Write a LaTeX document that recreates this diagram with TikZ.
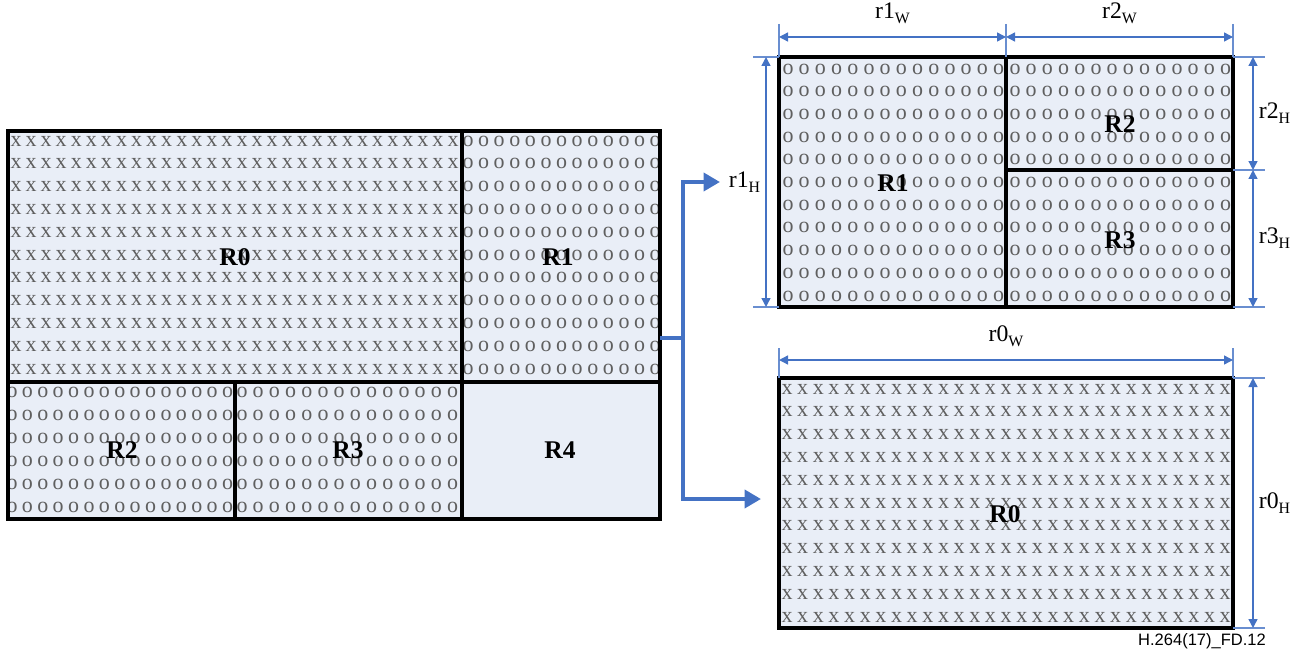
\documentclass[tikz,border=0pt]{standalone}
\usepackage{fontspec}
\setmainfont{Liberation Serif}
\newfontfamily\footfont{Liberation Sans}
\usetikzlibrary{arrows.meta,calc}
\definecolor{RegFill}{RGB}{233,238,247}
\definecolor{DimBlue}{RGB}{68,114,196}
\definecolor{GlyphGray}{RGB}{95,95,95}

% #1 prefix, #2 x0, #3 y0, #4 dx, #5 nx, #6 dy, #7 ny, #8 glyph
\newcommand{\glyphgrid}[8]{%
  \foreach \i in {1,...,#5}{\foreach \j in {1,...,#7}{%
    \node[glyph] (#1-\i-\j) at ({#2+(\i-1)*#4},{#3+(\j-1)*#6}) {#8};}}}
\newcommand{\dsub}[1]{\raisebox{-0.45ex}{\fontsize{9}{9}\selectfont #1}}

\begin{document}
\begin{tikzpicture}[x=0.02cm,y=-0.02cm,
glyph/.style={inner sep=0pt,text=GlyphGray,font=\fontsize{12.5}{12.5}\selectfont},
frame/.style={draw=black,line width=2.2pt},
reg/.style={inner sep=0pt,font=\fontsize{14.5}{14.5}\selectfont\bfseries},
dim/.style={draw=DimBlue,line width=0.8pt,{Triangle[length=1.8mm,width=1.8mm]}-{Triangle[length=1.8mm,width=1.8mm]}},
ext/.style={draw=DimBlue!80,line width=0.6pt},
dlbl/.style={inner sep=0pt,font=\fontsize{13.5}{13.5}\selectfont},
link/.style={draw=DimBlue,line width=2.3pt,-{Triangle[length=3.3mm,width=3.6mm]}}
]
\useasboundingbox (0,0) rectangle (1305,652);
% source picture
\fill[RegFill] (8,131) rectangle (660,519);
\glyphgrid{a}{16}{141}{15.07}{30}{22.8}{11}{x}
\glyphgrid{b}{468}{141}{15.6}{13}{22.8}{11}{o}
\glyphgrid{c}{12}{392}{15.4}{15}{23}{6}{o}
\glyphgrid{d}{242}{392}{16.2}{14}{23}{6}{o}
\draw[frame] (8,131) rectangle (660,519);
\draw[frame] (462,131) -- (462,519);
\draw[frame] (8,382) -- (660,382);
\draw[frame] (235,382) -- (235,519);
\node[reg] (lr0) at (235,257) {R0};
\node[reg] (lr1) at (558,257) {R1};
\node[reg] (lr2) at (122,450) {R2};
\node[reg] (lr3) at (348,450) {R3};
\node[reg] (lr4) at (560,450) {R4};
% o-regions, rearranged
\fill[RegFill] (779,57) rectangle (1233,307);
\glyphgrid{e}{788}{69}{16.2}{14}{22.7}{11}{o}
\glyphgrid{f}{1015}{69}{16.2}{14}{22.7}{11}{o}
\draw[frame] (779,57) rectangle (1233,307);
\draw[frame] (1006,57) -- (1006,307);
\draw[frame] (1006,170) -- (1233,170);
\node[reg] (rr1) at (893,183) {R1};
\node[reg] (rr2) at (1120,124) {R2};
\node[reg] (rr3) at (1120,240) {R3};
% x-region, rearranged
\fill[RegFill] (779,378) rectangle (1233,628);
\glyphgrid{g}{787}{389}{15.65}{29}{22.8}{11}{x}
\draw[frame] (779,378) rectangle (1233,628);
\node[reg] (rr0) at (1005,514) {R0};
% dimensions
\coordinate (w1) at (779,37); \coordinate (w2) at (1006,37); \coordinate (w3) at (1233,37);
\draw[ext] (779,24) -- (779,57); \draw[ext] (1006,24) -- (1006,57); \draw[ext] (1233,24) -- (1233,57);
\draw[dim] (w1) -- (w2) node[midway,above=7pt,dlbl] (l1w) {r1\dsub{W}};
\draw[dim] (w2) -- (w3) node[midway,above=7pt,dlbl] (l2w) {r2\dsub{W}};
\coordinate (h1) at (766,57); \coordinate (h2) at (766,307);
\draw[ext] (753,57) -- (779,57); \draw[ext] (753,307) -- (779,307);
\draw[dim] (h1) -- (h2) node[midway,left=3pt,dlbl] (l1h) {r1\dsub{H}};
\coordinate (v1) at (1253,57); \coordinate (v2) at (1253,170); \coordinate (v3) at (1253,307);
\draw[ext] (1233,57) -- (1265,57); \draw[ext] (1233,170) -- (1265,170); \draw[ext] (1233,307) -- (1265,307);
\draw[dim] (v1) -- (v2) node[midway,right=3pt,dlbl] (l2h) {r2\dsub{H}};
\draw[dim] (v2) -- (v3) node[midway,right=3pt,dlbl] (l3h) {r3\dsub{H}};
\coordinate (x1) at (779,360); \coordinate (x2) at (1233,360);
\draw[ext] (779,348) -- (779,378); \draw[ext] (1233,348) -- (1233,378);
\draw[dim] (x1) -- (x2) node[midway,above=7pt,dlbl] (l0w) {r0\dsub{W}};
\coordinate (y1) at (1253,378); \coordinate (y2) at (1253,628);
\draw[ext] (1233,378) -- (1265,378); \draw[ext] (1233,628) -- (1265,628);
\draw[dim] (y1) -- (y2) node[midway,right=3pt,dlbl] (l0h) {r0\dsub{H}};
% split arrows
\coordinate (lout) at (660,338);
\coordinate (split) at (683,338);
\coordinate (tin) at (720,182);
\coordinate (bin) at (761,499);
\draw[link] (lout) -- (split) |- (tin);
\draw[link] (split) |- (bin);
\node[inner sep=0pt,font=\footfont\fontsize{9.4}{9.4}\selectfont] (tag) at (1202,641) {H.264(17)\_FD.12};
\end{tikzpicture}
\end{document}
